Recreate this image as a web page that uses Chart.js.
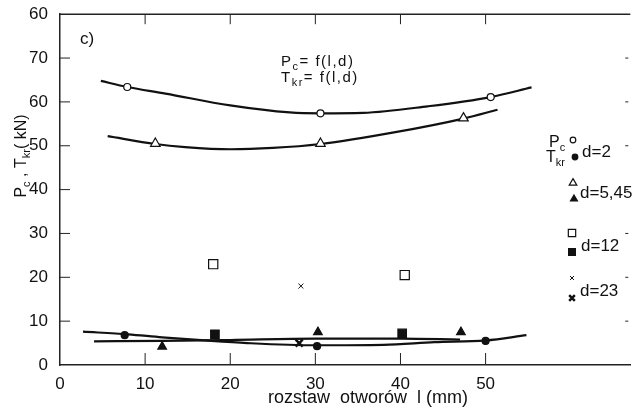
<!DOCTYPE html>
<html>
<head>
<meta charset="utf-8">
<script src="https://cdn.jsdelivr.net/npm/chart.js@4.4.1/dist/chart.umd.min.js"></script>
<style>
  html, body { margin: 0; padding: 0; background: #fff; }
</style>
</head>
<body>
<canvas id="myChart" width="638" height="409"></canvas>
<script>
// axis ticks (the top label reads "60" in the original figure)
const xTicks = [0, 10, 20, 30, 40, 50];
const yTicks = [0, 10, 20, 30, 40, 50, 60, 70, 80];
const yTickLabels = ['0', '10', '20', '30', '40', '50', '60', '70', '60'];

// Pc measured points (open markers)
const pcD2X = [7.9, 30.6, 50.6];
const pcD2Y = [63.4, 57.4, 61.1];
const pcD545X = [11.2, 30.6, 47.4];
const pcD545Y = [50.5, 50.5, 56.3];
const pcD12X = [18, 40.5];
const pcD12Y = [23, 20.5];
const pcD23X = [28.3];
const pcD23Y = [18];

// Tkr measured points (filled markers)
const tkD2X = [7.6, 30.2, 50];
const tkD2Y = [6.8, 4.3, 5.5];
const tkD545X = [12, 30.3, 47.1];
const tkD545Y = [4.2, 7.5, 7.5];
const tkD12X = [18.2, 40.2];
const tkD12Y = [7.0, 7.2];
const tkD23X = [28.1];
const tkD23Y = [5.0];

// fitted curves
const curvePcD2X = [4.8, 7.9, 12.4, 20, 27, 30.6, 35.6, 43.2, 50.6, 55.4];
const curvePcD2Y = [64.8, 63.4, 61.9, 59.2, 57.6, 57.4, 57.5, 59.0, 61.1, 63.3];
const curvePcD545X = [5.6, 11.2, 14.7, 20, 25, 30.6, 39.4, 47.4, 51.4];
const curvePcD545Y = [52.2, 50.4, 49.7, 49.2, 49.5, 50.4, 53.1, 56.2, 58.2];
const curveTkAX = [2.7, 8, 12, 17, 22, 30, 38, 44, 50, 54.8];
const curveTkAY = [7.6, 7.0, 6.3, 5.6, 5.0, 4.5, 4.6, 5.2, 5.6, 6.8];
const curveTkBX = [4, 12, 20, 30, 40, 47];
const curveTkBY = [5.4, 5.5, 5.7, 6.0, 6.0, 5.8];

const dLabels = ['d=2', 'd=5,45', 'd=12', 'd=23'];

function pts(xs, ys) {
    return xs.map((x, i) => ({ x: x, y: ys[i] }));
}

const FONT = '"Liberation Sans", Arial, sans-serif';
const INK = '#111';

function curve(xs, ys) {
    return {
        data: pts(xs, ys),
        showLine: true,
        pointRadius: 0,
        borderColor: INK,
        borderWidth: 2.2,
        cubicInterpolationMode: 'monotone',
        order: 2
    };
}

function marker(xs, ys, style, radius, filled, bw) {
    return {
        data: pts(xs, ys),
        showLine: false,
        pointStyle: style,
        pointRadius: radius,
        pointBorderWidth: bw || 1.2,
        pointBorderColor: INK,
        pointBackgroundColor: filled ? INK : '#fff',
        order: 0
    };
}

// marker styles, open for Pc, filled for Tkr, one pair per d
const pcStyles = [['circle', 3.5], ['triangle', 5.5], ['rect', 6.5], ['crossRot', 3.5]];
const tkStyles = [['circle', 3.5], ['triangle', 5], ['rect', 6], ['crossRot', 5]];

const datasets = [
    marker(pcD2X, pcD2Y, pcStyles[0][0], pcStyles[0][1], false),
    marker(pcD545X, pcD545Y, pcStyles[1][0], pcStyles[1][1], false),
    marker(pcD12X, pcD12Y, pcStyles[2][0], pcStyles[2][1], false),
    marker(pcD23X, pcD23Y, pcStyles[3][0], pcStyles[3][1], false, 1),
    marker(tkD2X, tkD2Y, tkStyles[0][0], tkStyles[0][1], true),
    marker(tkD545X, tkD545Y, tkStyles[1][0], tkStyles[1][1], true),
    marker(tkD12X, tkD12Y, tkStyles[2][0], tkStyles[2][1], true),
    marker(tkD23X, tkD23Y, tkStyles[3][0], tkStyles[3][1], true, 2.5),
    curve(curvePcD2X, curvePcD2Y),
    curve(curvePcD545X, curvePcD545Y),
    curve(curveTkAX, curveTkAY),
    curve(curveTkBX, curveTkBY)
];

// text with subscripts: parts = [[text, isSub], ...]
function richText(ctx, parts, x, y, size, align) {
    let w = 0;
    parts.forEach(p => {
        ctx.font = (p[1] ? Math.round(size * 0.7) : size) + 'px ' + FONT;
        w += ctx.measureText(p[0]).width;
    });
    let cx = align === 'center' ? x - w / 2 : x;
    parts.forEach(p => {
        ctx.font = (p[1] ? Math.round(size * 0.7) : size) + 'px ' + FONT;
        ctx.fillText(p[0], cx, p[1] ? y + size * 0.25 : y);
        cx += ctx.measureText(p[0]).width;
    });
}

const decorPlugin = {
    id: 'decor',
    afterDraw(chart) {
        const ctx = chart.ctx;
        const a = chart.chartArea;
        const xs = chart.scales.x;
        const ys = chart.scales.y;
        ctx.save();
        ctx.strokeStyle = '#222';
        ctx.fillStyle = INK;

        // top frame line
        ctx.lineWidth = 1.5;
        ctx.beginPath();
        ctx.moveTo(a.left, a.top);
        ctx.lineTo(a.right, a.top);
        ctx.stroke();

        // inward ticks
        ctx.lineWidth = 1;
        ctx.beginPath();
        xTicks.slice(1).forEach(v => {
            const px = xs.getPixelForValue(v);
            ctx.moveTo(px, a.bottom); ctx.lineTo(px, a.bottom - 12);
            ctx.moveTo(px, a.top); ctx.lineTo(px, a.top + 10);
        });
        yTicks.slice(1, -1).forEach(v => {
            const py = ys.getPixelForValue(v);
            ctx.moveTo(a.left, py); ctx.lineTo(a.left + 10, py);
            ctx.moveTo(a.right - 5, py); ctx.lineTo(a.right - 2, py);
        });
        ctx.stroke();

        ctx.textBaseline = 'alphabetic';

        // axis titles
        ctx.save();
        ctx.translate(26, 156);
        ctx.rotate(-Math.PI / 2);
        richText(ctx, [['P', false], ['c', true], [' , T', false], ['kr', true], ['( kN)', false]], 0, 0, 16, 'center');
        ctx.restore();

        ctx.font = '18px ' + FONT;
        ctx.textAlign = 'center';
        ctx.fillText('rozstaw  otworów  l (mm)', 368, 403);
        ctx.textAlign = 'left';

        // panel label and formulas
        ctx.font = '17px ' + FONT;
        ctx.fillText('c)', 80, 44);
        ctx.letterSpacing = '1.5px';
        richText(ctx, [['P', false], ['c', true], ['= f(l,d)', false]], 281, 66, 15, 'left');
        richText(ctx, [['T', false], ['kr', true], ['= f(l,d)', false]], 281, 82, 15, 'left');
        ctx.letterSpacing = '0px';

        // legend
        const legend = [
            { open: [573, 140], fill: [575, 157], tx: 582, ty: 157 },
            { open: [573, 183], fill: [574, 199], tx: 580, ty: 198 },
            { open: [572, 233], fill: [572, 252], tx: 581, ty: 251 },
            { open: [572, 278], fill: [572, 298], tx: 580, ty: 296 }
        ];
        legend.forEach((L, i) => {
            ctx.fillStyle = '#fff';
            ctx.strokeStyle = INK;
            ctx.lineWidth = i === 3 ? 1 : 1.2;
            Chart.helpers.drawPoint(ctx, { pointStyle: pcStyles[i][0], radius: pcStyles[i][1] * 0.8, borderWidth: ctx.lineWidth }, L.open[0], L.open[1]);
            ctx.fillStyle = INK;
            ctx.lineWidth = i === 3 ? 2.5 : 1.2;
            Chart.helpers.drawPoint(ctx, { pointStyle: tkStyles[i][0], radius: tkStyles[i][1] * 0.8, borderWidth: ctx.lineWidth }, L.fill[0], L.fill[1]);
            ctx.font = '17px ' + FONT;
            ctx.fillText(dLabels[i], L.tx, L.ty);
        });
        richText(ctx, [['P', false], ['c', true]], 549, 147, 16, 'left');
        richText(ctx, [['T', false], ['kr', true]], 546, 162, 16, 'left');

        ctx.restore();
    }
};

const ctx = document.getElementById('myChart');

const chart = new Chart(ctx, {
    type: 'scatter',
    data: { datasets: datasets },
    options: {
        responsive: false,
        animation: false,
        devicePixelRatio: 1,
        layout: { padding: { top: 13, right: 0, left: 0, bottom: 0 } },
        plugins: { legend: { display: false }, tooltip: { enabled: false } },
        scales: {
            x: {
                type: 'linear',
                min: 0,
                max: 67,
                afterBuildTicks: s => { s.ticks = xTicks.map(v => ({ value: v })); },
                afterFit: s => { s.height = 44; },
                grid: { display: false },
                border: { display: true, color: '#222', width: 1.5 },
                ticks: { color: INK, font: { family: FONT, size: 17 }, padding: 1, maxRotation: 0 }
            },
            y: {
                type: 'linear',
                min: 0,
                max: 80,
                afterBuildTicks: s => { s.ticks = yTicks.map(v => ({ value: v })); },
                afterFit: s => { s.width = 60; },
                grid: { display: false },
                border: { display: true, color: '#222', width: 1.5 },
                ticks: {
                    color: INK,
                    font: { family: FONT, size: 17 },
                    padding: 4,
                    callback: (v, i) => yTickLabels[i]
                }
            }
        }
    },
    plugins: [decorPlugin]
});
</script>
</body>
</html>
